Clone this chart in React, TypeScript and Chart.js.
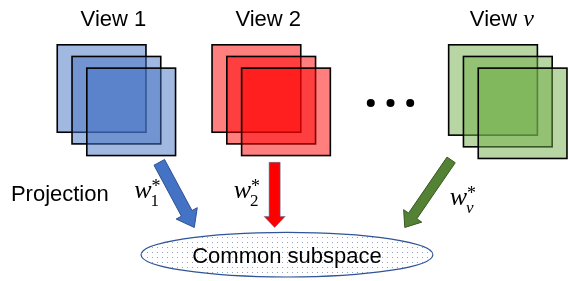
import React, { useEffect, useRef } from "react";
import { Chart, registerables } from "chart.js";
Chart.register(...registerables);

const W = 569;
const H = 281;

// Views (stacks of three translucent squares)
const viewTitles = ["View 1", "View 2", "View "];
const viewTitleMath = ["", "", "v"];
const viewTitleCenterX = [111, 268, 505];
const viewTitleBaseline = [23, 23, 23];
const stackLeft = [54, 211, 451];
const stackTop = [42, 42, 42];
const squareWidth = [90, 90, 90];
const squareHeight = [90, 90, 93];
const layerShiftX = [0, 15, 30];
const layerShiftY = [0, 12, 24];
const viewFill = ["rgba(68,114,196,0.5)", "rgba(255,0,0,0.5)", "rgba(112,173,71,0.5)"];

// "• • •" between view 2 and view v
const ellipsisX = [372, 392, 412];
const ellipsisY = [102, 102, 102];

// Projection arrows
const arrowFromX = [157.5, 274.5, 453.5];
const arrowFromY = [163, 163, 160.5];
const arrowToX = [193, 274.5, 406.5];
const arrowToY = [230, 230, 230];
const arrowShaft = [12, 11, 10];
const arrowHeadW = [24, 21, 22];
const arrowHeadL = [16, 11, 14];
const arrowFill = ["#4472C4", "#FF0000", "#548235"];
const arrowStroke = ["#2F528F", "rgba(65,113,156,0.55)", "#385723"];

// Weight labels w_i^*
const weightSub = ["1", "2", "v"];
const weightX = [132, 233, 452];
const weightBaseline = [200, 200, 207];

// Common subspace ellipse
const ellipseCX = [287];
const ellipseCY = [258];
const ellipseRX = [148];
const ellipseRY = [23];
const ellipseLabel = ["Common subspace"];
const ellipseLabelBaseline = [267];

const projectionLabel = ["Projection"];
const projectionX = [7];
const projectionBaseline = [203];

const SANS = '"Liberation Sans", Arial, sans-serif';
const SERIF = '"Liberation Serif", "DejaVu Serif", serif';

function makePattern(ctx: CanvasRenderingContext2D) {
  const c = document.createElement("canvas");
  c.width = 5;
  c.height = 5;
  const p = c.getContext("2d")!;
  p.fillStyle = "#ffffff";
  p.fillRect(0, 0, 5, 5);
  p.fillStyle = "rgba(47,85,151,0.55)";
  p.fillRect(2, 2, 1, 1);
  return ctx.createPattern(c, "repeat");
}

const diagramPlugin = {
  id: "diagram",
  beforeDatasetsDraw(chart: any) {
    const ctx: CanvasRenderingContext2D = chart.ctx;
    const xs = chart.scales.x;
    const ys = chart.scales.y;
    const px = (v: number) => xs.getPixelForValue(v);
    const py = (v: number) => ys.getPixelForValue(v);
    ctx.save();
    ctx.fillStyle = "#ffffff";
    ctx.fillRect(0, 0, chart.width, chart.height);

    // squares
    for (let v = 0; v < viewTitles.length; v++) {
      for (let l = 0; l < layerShiftX.length; l++) {
        const x0 = px(stackLeft[v] + layerShiftX[l]);
        const y0 = py(stackTop[v] + layerShiftY[l]);
        const x1 = px(stackLeft[v] + layerShiftX[l] + squareWidth[v]);
        const y1 = py(stackTop[v] + layerShiftY[l] + squareHeight[v]);
        ctx.fillStyle = viewFill[v];
        ctx.fillRect(x0, y0, x1 - x0, y1 - y0);
        ctx.strokeStyle = "#000000";
        ctx.lineWidth = 1.6;
        ctx.strokeRect(x0, y0, x1 - x0, y1 - y0);
      }
      // titles
      ctx.fillStyle = "#000000";
      ctx.textBaseline = "alphabetic";
      ctx.font = `22px ${SANS}`;
      const t = viewTitles[v];
      const tw = ctx.measureText(t).width;
      ctx.font = `italic 24px ${SERIF}`;
      const mw = viewTitleMath[v] ? ctx.measureText(viewTitleMath[v]).width : 0;
      const start = px(viewTitleCenterX[v]) - (tw + mw) / 2;
      ctx.font = `22px ${SANS}`;
      ctx.fillText(t, start, py(viewTitleBaseline[v]));
      if (mw) {
        ctx.font = `italic 24px ${SERIF}`;
        ctx.fillText(viewTitleMath[v], start + tw, py(viewTitleBaseline[v]));
      }
    }

    // arrows
    for (let a = 0; a < arrowFromX.length; a++) {
      const x0 = px(arrowFromX[a]);
      const y0 = py(arrowFromY[a]);
      const x1 = px(arrowToX[a]);
      const y1 = py(arrowToY[a]);
      const len = Math.hypot(x1 - x0, y1 - y0);
      const dx = (x1 - x0) / len;
      const dy = (y1 - y0) / len;
      const nx = -dy;
      const ny = dx;
      const s = arrowShaft[a] / 2;
      const h = arrowHeadW[a] / 2;
      const bx = x1 - dx * arrowHeadL[a];
      const by = y1 - dy * arrowHeadL[a];
      ctx.beginPath();
      ctx.moveTo(x0 + nx * s, y0 + ny * s);
      ctx.lineTo(bx + nx * s, by + ny * s);
      ctx.lineTo(bx + nx * h, by + ny * h);
      ctx.lineTo(x1, y1);
      ctx.lineTo(bx - nx * h, by - ny * h);
      ctx.lineTo(bx - nx * s, by - ny * s);
      ctx.lineTo(x0 - nx * s, y0 - ny * s);
      ctx.closePath();
      ctx.fillStyle = arrowFill[a];
      ctx.fill();
      ctx.strokeStyle = arrowStroke[a];
      ctx.lineWidth = 1;
      ctx.stroke();

      // weight label
      const wx = px(weightX[a]);
      const wb = py(weightBaseline[a]);
      ctx.fillStyle = "#000000";
      ctx.font = `italic 26px ${SERIF}`;
      ctx.fillText("w", wx, wb);
      const ww = ctx.measureText("w").width;
      const subIsMath = weightSub[a] === "v";
      ctx.font = subIsMath ? `italic 17px ${SERIF}` : `17px ${SERIF}`;
      ctx.fillText(weightSub[a], wx + ww - 1, wb + 8);
      ctx.font = `18px ${SERIF}`;
      ctx.fillText("*", wx + ww, wb - 6);
    }

    // ellipse
    const cx = px(ellipseCX[0]);
    const cy = py(ellipseCY[0]);
    const rx = Math.abs(px(ellipseCX[0] + ellipseRX[0]) - cx);
    const ry = Math.abs(py(ellipseCY[0] + ellipseRY[0]) - cy);
    ctx.beginPath();
    ctx.ellipse(cx, cy, rx, ry, 0, 0, Math.PI * 2);
    const pat = makePattern(ctx);
    ctx.fillStyle = pat || "#ffffff";
    ctx.fill();
    ctx.strokeStyle = "#2F5597";
    ctx.lineWidth = 1.2;
    ctx.stroke();
    ctx.fillStyle = "#000000";
    ctx.font = `22px ${SANS}`;
    ctx.textAlign = "center";
    ctx.fillText(ellipseLabel[0], cx, py(ellipseLabelBaseline[0]));
    ctx.textAlign = "left";

    // projection label
    ctx.font = `22px ${SANS}`;
    ctx.fillText(projectionLabel[0], px(projectionX[0]), py(projectionBaseline[0]));
    ctx.restore();
  },
};

export default function App() {
  const ref = useRef<HTMLCanvasElement | null>(null);
  useEffect(() => {
    document.body.style.margin = "0";
    const canvas = ref.current!;
    const chart = new Chart(canvas, {
      type: "scatter",
      data: {
        datasets: [
          {
            data: ellipsisX.map((x, i) => ({ x, y: ellipsisY[i] })),
            pointRadius: 4,
            pointBackgroundColor: "#000000",
            pointBorderWidth: 0,
            showLine: false,
          },
        ],
      },
      options: {
        responsive: false,
        animation: false,
        devicePixelRatio: 1,
        layout: { padding: 0 },
        scales: {
          x: { type: "linear", min: 0, max: W, display: false },
          y: { type: "linear", min: 0, max: H, reverse: true, display: false },
        },
        plugins: { legend: { display: false }, tooltip: { enabled: false } },
        events: [],
      },
      plugins: [diagramPlugin],
    });
    return () => chart.destroy();
  }, []);
  return <canvas ref={ref} width={W} height={H} style={{ display: "block" }} />;
}
